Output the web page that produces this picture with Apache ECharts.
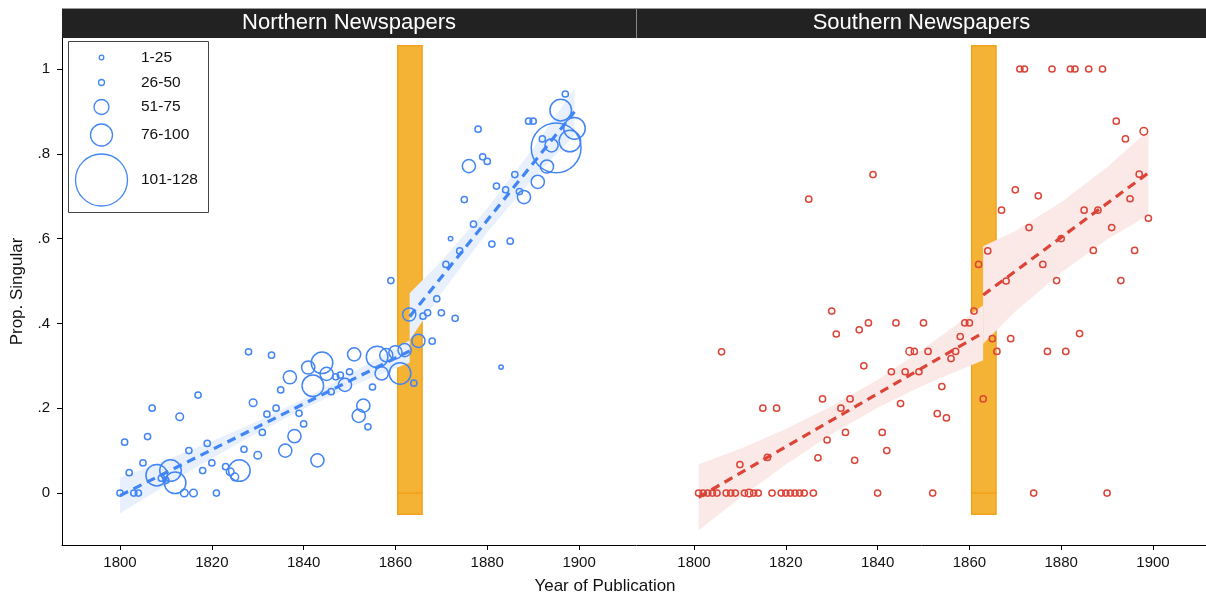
<!DOCTYPE html>
<html><head><meta charset="utf-8">
<script src="https://cdn.jsdelivr.net/npm/echarts@6/dist/echarts.min.js"></script>
<style>html,body{margin:0;padding:0;background:#fff}#c{width:1206px;height:597px}</style>
</head><body><div id="c"></div>
<script>
// ---------- data ----------
const panelTitles = ['Northern Newspapers', 'Southern Newspapers'];
const xTicks = [1800, 1820, 1840, 1860, 1880, 1900];
const yTicks = [0, 0.2, 0.4, 0.6, 0.8, 1];
const yTickLabels = ['0', '.2', '.4', '.6', '.8', '1'];
const legendLabels = ['1-25', '26-50', '51-75', '76-100', '101-128'];

// [year, proportion singular, number of articles]
const northPoints = [
  [1800,0.0,2],[1801,0.12,2],[1802,0.048,2],[1803,0.0,2],[1804,0.0,2],[1805,0.071,2],
  [1806,0.133,2],[1807,0.2,2],[1808,0.042,24],[1809,0.035,2],[1810,0.03,2],[1811,0.053,24],
  [1812,0.024,24],[1813,0.18,3],[1814,0.0,3],[1815,0.1,2],[1816,0.0,3],[1817,0.231,2],
  [1818,0.053,2],[1819,0.117,2],[1820,0.071,2],[1821,0.0,2],[1823,0.062,2],[1824,0.05,3],
  [1825,0.038,3],[1826,0.053,24],[1827,0.103,2],[1828,0.333,2],[1829,0.213,3],[1830,0.089,3],
  [1831,0.143,2],[1832,0.186,2],[1833,0.325,2],[1834,0.2,2],[1835,0.243,2],[1836,0.1,9],
  [1837,0.273,9],[1838,0.134,9],[1839,0.188,2],[1840,0.163,2],[1841,0.296,9],[1842,0.253,24],
  [1843,0.077,9],[1844,0.307,24],[1845,0.281,9],[1846,0.239,2],[1847,0.274,2],[1848,0.278,2],
  [1849,0.255,9],[1850,0.286,2],[1851,0.327,9],[1852,0.182,9],[1853,0.206,9],[1854,0.156,2],
  [1855,0.25,2],[1856,0.321,24],[1857,0.282,9],[1858,0.325,9],[1859,0.501,2],[1860,0.332,9],
  [1861,0.282,24],[1862,0.337,9],[1863,0.421,9],[1864,0.259,2],[1865,0.359,9],[1866,0.417,2],
  [1867,0.425,2],[1868,0.358,2],[1869,0.458,2],[1870,0.425,2],[1871,0.539,2],[1872,0.6,1],
  [1873,0.412,2],[1874,0.571,2],[1875,0.692,2],[1876,0.771,9],[1877,0.634,2],[1878,0.858,2],
  [1879,0.793,2],[1880,0.782,2],[1881,0.587,2],[1882,0.724,2],[1883,0.297,1],[1884,0.715,2],
  [1885,0.594,2],[1886,0.751,2],[1887,0.711,2],[1888,0.698,9],[1889,0.877,2],[1890,0.877,2],
  [1891,0.734,9],[1892,0.835,2],[1893,0.77,9],[1894,0.82,9],[1895,0.814,128],[1896,0.903,24],
  [1897,0.941,2],[1898,0.83,24],[1899,0.86,24]
];
const southPoints = [
  [1801,0,2],[1802,0,2],[1803,0,2],[1804,0,2],[1805,0,2],[1806,0.333,2],[1807,0,2],[1808,0,2],
  [1809,0,2],[1810,0.067,2],[1811,0,2],[1812,0,3],[1813,0,2],[1814,0,2],[1815,0.2,2],[1816,0.084,2],
  [1817,0,2],[1818,0.2,2],[1819,0,2],[1820,0,2],[1821,0,2],[1822,0,2],[1823,0,2],[1824,0,2],
  [1825,0.693,2],[1826,0,2],[1827,0.083,2],[1828,0.222,2],[1829,0.125,2],[1830,0.429,2],[1831,0.375,2],
  [1832,0.2,2],[1833,0.143,2],[1834,0.222,2],[1835,0.077,2],[1836,0.385,2],[1837,0.3,2],[1838,0.401,2],
  [1839,0.751,2],[1840,0,2],[1841,0.143,2],[1842,0.1,2],[1843,0.286,2],[1844,0.401,2],[1845,0.211,2],
  [1846,0.286,2],[1847,0.334,3],[1848,0.334,2],[1849,0.286,2],[1850,0.401,2],[1851,0.334,2],[1852,0,2],
  [1853,0.187,2],[1854,0.251,2],[1855,0.177,2],[1856,0.317,2],[1857,0.334,2],[1858,0.369,2],[1859,0.401,2],
  [1860,0.401,2],[1861,0.429,2],[1862,0.539,2],[1863,0.222,2],[1864,0.571,2],[1865,0.364,2],[1866,0.334,2],
  [1867,0.667,2],[1868,0.5,2],[1869,0.364,2],[1870,0.715,2],[1871,1,2],[1872,1,2],[1873,0.626,2],
  [1874,0,2],[1875,0.701,2],[1876,0.539,2],[1877,0.334,2],[1878,1,2],[1879,0.501,2],[1880,0.6,2],
  [1881,0.334,2],[1882,1,2],[1883,1,2],[1884,0.376,2],[1885,0.667,2],[1886,1,2],[1887,0.572,2],
  [1888,0.667,2],[1889,1,2],[1890,0,2],[1891,0.626,2],[1892,0.877,2],[1893,0.501,2],[1894,0.835,2],
  [1895,0.694,2],[1896,0.572,2],[1897,0.752,2],[1898,0.853,3],[1899,0.648,2]
];

// linear fits (endpoints) and confidence bands
const northFit1 = [[1800,-0.006],[1863.1,0.335]];
const northFit2 = [[1863.1,0.416],[1899,0.899]];
const southFit1 = [[1801,-0.01],[1863,0.378]];
const southFit2 = [[1863,0.467],[1899,0.755]];

const northBand1X = [1800,1810,1820,1830,1840,1850,1863.1];
const northBand1Lo = [-0.048,0.018,0.082,0.143,0.198,0.250,0.308];
const northBand1Hi = [0.036,0.078,0.122,0.169,0.222,0.280,0.360];
const northBand2X = [1863.1,1870,1880,1890,1899];
const northBand2Lo = [0.361,0.471,0.615,0.743,0.844];
const northBand2Hi = [0.471,0.547,0.671,0.813,0.954];

const southBand1X = [1801,1810,1820,1830,1840,1850,1863];
const southBand1Lo = [-0.088,-0.012,0.067,0.139,0.201,0.254,0.313];
const southBand1Hi = [0.068,0.104,0.151,0.205,0.267,0.340,0.443];
const southBand2X = [1863,1870,1880,1890,1899];
const southBand2Lo = [0.352,0.428,0.520,0.598,0.655];
const southBand2Hi = [0.582,0.618,0.686,0.768,0.855];

// shaded period (years) and its vertical extent
const periodX = [1860.5, 1865.8];
const periodY = [-0.05, 0, 1.055];

// ---------- chart ----------
const FONT = "'Liberation Sans', Arial, Helvetica, sans-serif";
const BLUE = '#4285F4', RED = '#DB4437';
const BLUE_BAND = '#E8F0FE', RED_BAND = '#FBE9E8';
const BAR_FILL = '#F5B335', BAR_EDGE = '#F2A31C';

const chart = echarts.init(document.getElementById('c'), null, {renderer: 'canvas'});

function sizeOf(v) { return 4.4 * Math.sqrt(v[2]); }

function bandSeries(idx, xs, lo, hi, color) {
  return {
    type: 'custom', xAxisIndex: idx, yAxisIndex: idx, z: 2, silent: true,
    data: [[xs[0], lo[0]]],
    renderItem: function (params, api) {
      const pts = [];
      for (let i = 0; i < xs.length; i++) pts.push(api.coord([xs[i], hi[i]]));
      for (let i = xs.length - 1; i >= 0; i--) pts.push(api.coord([xs[i], lo[i]]));
      return {type: 'polygon', shape: {points: pts}, style: {fill: color, stroke: null}};
    }
  };
}
function periodSeries(idx) {
  return {
    type: 'custom', xAxisIndex: idx, yAxisIndex: idx, z: 1, silent: true,
    data: [[periodX[0], periodY[0]]],
    renderItem: function (params, api) {
      const children = [];
      for (let k = 0; k < periodY.length - 1; k++) {
        const a = api.coord([periodX[0], periodY[k + 1]]);
        const b = api.coord([periodX[1], periodY[k]]);
        children.push({type: 'rect', shape: {x: a[0], y: a[1], width: b[0] - a[0], height: b[1] - a[1]},
          style: {fill: BAR_FILL, stroke: BAR_EDGE, lineWidth: 1.5}});
      }
      return {type: 'group', children: children};
    }
  };
}
function fitSeries(idx, data, color) {
  return {type: 'line', xAxisIndex: idx, yAxisIndex: idx, z: 3, silent: true, data: data,
    showSymbol: false, symbol: 'none', lineStyle: {color: color, width: 3.2, type: [9, 6]}};
}
function pointSeries(idx, data, color) {
  return {type: 'scatter', xAxisIndex: idx, yAxisIndex: idx, z: 4, silent: true, data: data,
    symbol: 'circle', symbolSize: sizeOf,
    itemStyle: {color: 'rgba(0,0,0,0)', borderColor: color, borderWidth: 1.5, opacity: 1}};
}

const xCommon = {
  type: 'value', splitLine: {show: false},
  axisLine: {show: true, onZero: false, lineStyle: {color: '#000', width: 1}},
  axisTick: {show: true, length: 5, customValues: xTicks, lineStyle: {color: '#000'}},
  axisLabel: {show: true, customValues: xTicks, margin: 10, color: '#111', fontSize: 15, fontFamily: FONT,
    formatter: function (v) { return String(Math.round(v)); }}
};

const legendCy = [57.5, 82.5, 107, 135, 180];
const legendR = [2.3, 3, 7.5, 11, 26];
const legendGraphics = [{type: 'rect', shape: {x: 68.5, y: 41.5, width: 140, height: 171},
  style: {fill: '#fff', stroke: '#444', lineWidth: 1}, z: 100}];
legendLabels.forEach((lab, i) => {
  legendGraphics.push({type: 'circle', shape: {cx: 101.5, cy: legendCy[i], r: legendR[i]},
    style: {fill: 'none', stroke: BLUE, lineWidth: 1.3}, z: 101});
  legendGraphics.push({type: 'text', x: 141, y: legendCy[i],
    style: {text: lab, fill: '#111', font: '15.5px ' + FONT, textVerticalAlign: 'middle'}, z: 101});
});

const option = {
  backgroundColor: '#fff',
  animation: false,
  grid: [
    {left: 62, top: 38, width: 574, height: 507, containLabel: false},
    {left: 637, top: 38, width: 569, height: 507, containLabel: false}
  ],
  xAxis: [
    Object.assign({gridIndex: 0, min: 1787.36, max: 1912.4}, xCommon),
    Object.assign({gridIndex: 1, min: 1787.58, max: 1911.55}, xCommon)
  ],
  yAxis: [
    {type: 'value', gridIndex: 0, min: -0.1226, max: 1.0731, splitLine: {show: false},
      name: 'Prop. Singular', nameLocation: 'middle', nameGap: 36,
      nameTextStyle: {fontSize: 17, color: '#111', fontFamily: FONT},
      axisLine: {show: true, onZero: false, lineStyle: {color: '#000', width: 1}},
      axisTick: {show: true, length: 5, customValues: yTicks, lineStyle: {color: '#000'}},
      axisLabel: {show: true, customValues: yTicks, margin: 12, color: '#111', fontSize: 15, fontFamily: FONT,
        formatter: function (v) { const i = yTicks.findIndex(t => Math.abs(t - v) < 1e-9); return i >= 0 ? yTickLabels[i] : ''; }}},
    {type: 'value', gridIndex: 1, min: -0.1226, max: 1.0731, show: false, splitLine: {show: false}}
  ],
  series: [
    periodSeries(0), periodSeries(1),
    bandSeries(0, northBand1X, northBand1Lo, northBand1Hi, BLUE_BAND),
    bandSeries(0, northBand2X, northBand2Lo, northBand2Hi, BLUE_BAND),
    bandSeries(1, southBand1X, southBand1Lo, southBand1Hi, RED_BAND),
    bandSeries(1, southBand2X, southBand2Lo, southBand2Hi, RED_BAND),
    fitSeries(0, northFit1, BLUE), fitSeries(0, northFit2, BLUE),
    fitSeries(1, southFit1, RED), fitSeries(1, southFit2, RED),
    pointSeries(0, northPoints, BLUE), pointSeries(1, southPoints, RED)
  ],
  graphic: [
    {type: 'rect', shape: {x: 62, y: 8, width: 1144, height: 30}, style: {fill: '#222', stroke: null}, z: 50},
    {type: 'line', shape: {x1: 62, y1: 8.5, x2: 1206, y2: 8.5}, style: {stroke: '#999', lineWidth: 1}, z: 51},
    {type: 'line', shape: {x1: 636.5, y1: 8, x2: 636.5, y2: 38}, style: {stroke: '#888', lineWidth: 1}, z: 51},
    {type: 'text', x: 349, y: 22.5, style: {text: panelTitles[0], fill: '#fff', font: '22px ' + FONT,
      textAlign: 'center', textVerticalAlign: 'middle'}, z: 52},
    {type: 'text', x: 921.5, y: 22.5, style: {text: panelTitles[1], fill: '#fff', font: '22px ' + FONT,
      textAlign: 'center', textVerticalAlign: 'middle'}, z: 52},
    {type: 'text', x: 605, y: 586, style: {text: 'Year of Publication', fill: '#111', font: '17px ' + FONT,
      textAlign: 'center', textVerticalAlign: 'middle'}, z: 52}
  ].concat(legendGraphics)
};
chart.setOption(option);
</script></body></html>
